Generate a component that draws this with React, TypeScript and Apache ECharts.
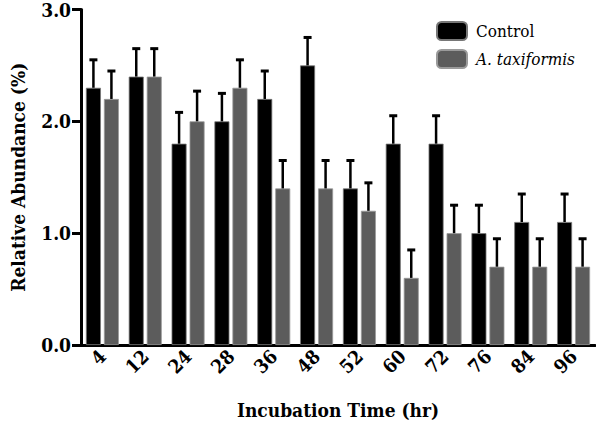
import React, { useEffect, useRef } from "react";
import * as echarts from "echarts";

const categories = ["4", "12", "24", "28", "36", "48", "52", "60", "72", "76", "84", "96"];
const controlValues = [2.3, 2.4, 1.8, 2.0, 2.2, 2.5, 1.4, 1.8, 1.8, 1.0, 1.1, 1.1];
const controlErrors = [0.25, 0.25, 0.28, 0.25, 0.25, 0.25, 0.25, 0.25, 0.25, 0.25, 0.25, 0.25];
const taxiValues = [2.2, 2.4, 2.0, 2.3, 1.4, 1.4, 1.2, 0.6, 1.0, 0.7, 0.7, 0.7];
const taxiErrors = [0.25, 0.25, 0.27, 0.25, 0.25, 0.25, 0.25, 0.25, 0.25, 0.25, 0.25, 0.25];
const yTicks = [0, 1, 2, 3];

const FONT = "DejaVu Serif Condensed";
const BAR_W = 15;
const BAR_GAP = 3;

function errorSeries(name: string, values: number[], errs: number[], offset: number) {
  return {
    type: "custom",
    name: name + " err",
    z: 5,
    silent: true,
    data: values.map((v, i) => [i, v, v + errs[i]]),
    renderItem: (params: any, api: any) => {
      const i = api.value(0);
      const lo = api.coord([i, api.value(1)]);
      const hi = api.coord([i, api.value(2)]);
      const x = lo[0] + offset;
      return {
        type: "group",
        children: [
          {
            type: "line",
            shape: { x1: x, y1: lo[1], x2: x, y2: hi[1] },
            style: { stroke: "#000", lineWidth: 2.5 },
          },
          {
            type: "line",
            shape: { x1: x - 4, y1: hi[1], x2: x + 4, y2: hi[1] },
            style: { stroke: "#000", lineWidth: 3 },
          },
        ],
      };
    },
  };
}

export default function App() {
  const ref = useRef<HTMLDivElement>(null);
  useEffect(() => {
    if (!ref.current) return;
    document.body.style.margin = "0";
    const chart = echarts.init(ref.current, null, { renderer: "svg" });
    const off = (BAR_W + BAR_GAP) / 2;
    chart.setOption({
      animation: false,
      textStyle: { fontFamily: FONT },
      grid: { left: 75, right: 1, top: 7, bottom: 77, containLabel: false },
      legend: {
        left: 431,
        top: 16,
        orient: "vertical",
        itemWidth: 30,
        itemHeight: 18,
        itemGap: 8,
        data: [
          { name: "Control", textStyle: { fontFamily: FONT, fontSize: 17, color: "#000" } },
          { name: "A. taxiformis", textStyle: { fontFamily: FONT, fontSize: 17, fontStyle: "italic", color: "#000" } },
        ],
        textStyle: {
          fontFamily: FONT,
          fontSize: 17,
          color: "#000",
          padding: [0, 0, 0, 4],
        },
      },
      xAxis: {
        type: "category",
        data: categories,
        name: "Incubation Time (hr)",
        nameLocation: "middle",
        nameGap: 55,
        nameTextStyle: { fontFamily: FONT, fontSize: 19, fontWeight: "bold", color: "#000" },
        axisLine: { lineStyle: { color: "#000", width: 3 } },
        axisTick: { alignWithLabel: true, length: 9, interval: 0, lineStyle: { color: "#000", width: 3 } },
        axisLabel: {
          show: true,
          interval: 0,
          rotate: 45,
          margin: 8,
          fontFamily: FONT,
          fontSize: 19,
          fontWeight: "bold",
          color: "#000",
        },
      },
      yAxis: {
        type: "value",
        min: yTicks[0],
        max: yTicks[yTicks.length - 1],
        interval: 1,
        name: "Relative Abundance (%)",
        nameLocation: "middle",
        nameGap: 54,
        nameTextStyle: { fontFamily: FONT, fontSize: 19, fontWeight: "bold", color: "#000" },
        axisLine: { show: true, lineStyle: { color: "#000", width: 3 } },
        axisTick: { show: true, length: 9, lineStyle: { color: "#000", width: 3 } },
        splitLine: { show: false },
        axisLabel: {
          margin: 10,
          fontFamily: FONT,
          fontSize: 19,
          fontWeight: "bold",
          color: "#000",
          formatter: (v: number) => v.toFixed(1),
        },
      },
      series: [
        {
          type: "bar",
          name: "Control",
          data: controlValues,
          barWidth: BAR_W,
          barGap: (BAR_GAP / BAR_W) * 100 + "%",
          itemStyle: { color: "#000", borderColor: "#777", borderWidth: 0.8 },
        },
        {
          type: "bar",
          name: "A. taxiformis",
          data: taxiValues,
          barWidth: BAR_W,
          itemStyle: { color: "#5c5c5c", borderColor: "#9a9a9a", borderWidth: 0.8 },
        },
        errorSeries("Control", controlValues, controlErrors, -off),
        errorSeries("A. taxiformis", taxiValues, taxiErrors, off),
      ],
    });
    return () => chart.dispose();
  }, []);
  return <div ref={ref} style={{ width: 596, height: 424 }} />;
}
